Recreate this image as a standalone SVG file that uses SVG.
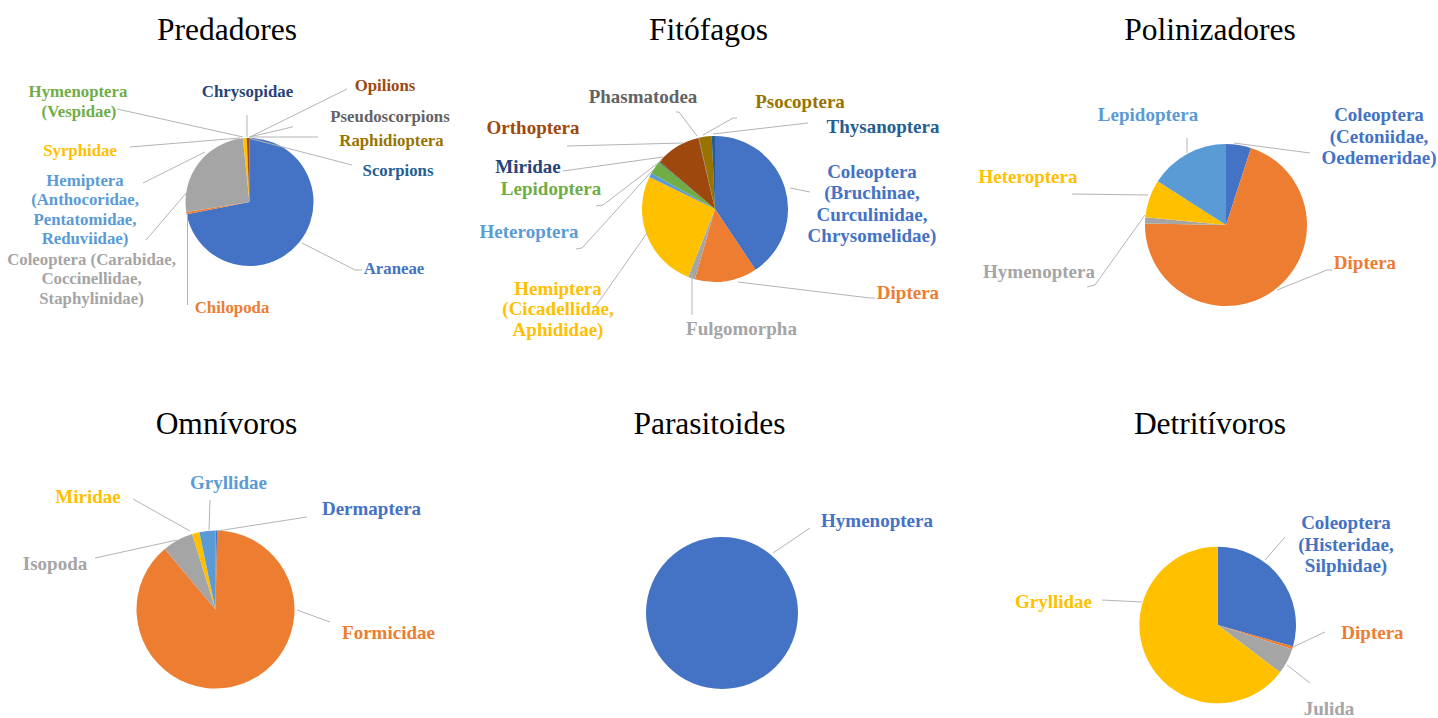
<svg xmlns="http://www.w3.org/2000/svg" width="1438" height="718" viewBox="0 0 1438 718">
<style>
.t{font-family:"Liberation Serif","Times New Roman",serif;font-size:31.5px;fill:#000;text-anchor:middle}
.l{font-family:"Liberation Serif","Times New Roman",serif;font-size:19px;font-weight:bold;text-anchor:middle}
#predadores .l{font-size:16.8px}
.ld{fill:none;stroke:#b4b4b4;stroke-width:1}
.c1{fill:#4472C4}.c2{fill:#ED7D31}.c3{fill:#A5A5A5}.c4{fill:#FFC000}.c5{fill:#5B9BD5}.c6{fill:#70AD47}
.c7{fill:#264478}.c8{fill:#9E480E}.c9{fill:#636363}.c10{fill:#997300}.c11{fill:#255E91}
</style>
<rect width="1438" height="718" fill="#fff"/>

<g id="predadores">
<text class="t" x="227" y="39.5">Predadores</text>
<path class="c1" d="M249.5,202 L249.5,138 A64,64 0 1,1 186.68,214.21 Z"/>
<path class="c2" d="M249.5,202 L186.68,214.21 A64,64 0 0,1 186.29,212.01 Z"/>
<path class="c3" d="M249.5,202 L186.29,212.01 A64,64 0 0,1 242.81,138.35 Z"/>
<path class="c4" d="M249.5,202 L242.81,138.35 A64,64 0 0,1 246.71,138.06 Z"/>
<path class="c8" d="M249.5,202 L246.71,138.06 A64,64 0 0,1 249.5,138 Z"/>
<text class="l c6" x="78" y="96.5">Hymenoptera</text>
<text class="l c6" x="79" y="117">(Vespidae)</text>
<text class="l c4" x="80" y="156">Syrphidae</text>
<text class="l c5" x="85"><tspan x="85" y="185.5">Hemiptera</tspan><tspan x="85" y="205">(Anthocoridae,</tspan><tspan x="85" y="224.5">Pentatomidae,</tspan><tspan x="85" y="244">Reduviidae)</tspan></text>
<text class="l c3" x="91.5"><tspan x="91.5" y="264.5">Coleoptera (Carabidae,</tspan><tspan x="91.5" y="284">Coccinellidae,</tspan><tspan x="91.5" y="303.5">Staphylinidae)</tspan></text>
<text class="l c2" x="232" y="312.5">Chilopoda</text>
<text class="l c7" x="247.5" y="97">Chrysopidae</text>
<text class="l c8" x="385" y="90.5">Opilions</text>
<text class="l c9" x="390" y="122">Pseudoscorpions</text>
<text class="l c10" x="391.5" y="145.5">Raphidioptera</text>
<text class="l c11" x="398" y="175.5">Scorpions</text>
<text class="l c1" x="394" y="273.5">Araneae</text>
</g>

<g id="fitofagos">
<text class="t" x="708.5" y="39.5">Fitófagos</text>
<path class="c1" d="M715,209 L715,136 A73,73 0 0,1 755.50,269.74 Z"/>
<path class="c2" d="M715,209 L755.50,269.74 A73,73 0 0,1 694.88,279.17 Z"/>
<path class="c3" d="M715,209 L694.88,279.17 A73,73 0 0,1 688.25,276.92 Z"/>
<path class="c4" d="M715,209 L688.25,276.92 A73,73 0 0,1 649.39,177.00 Z"/>
<path class="c5" d="M715,209 L649.39,177.00 A73,73 0 0,1 651.46,173.05 Z"/>
<path class="c6" d="M715,209 L651.46,173.05 A73,73 0 0,1 659.08,162.08 Z"/>
<path class="c7" d="M715,209 L659.08,162.08 A73,73 0 0,1 659.57,161.49 Z"/>
<path class="c8" d="M715,209 L659.57,161.49 A73,73 0 0,1 698.33,137.93 Z"/>
<path class="c9" d="M715,209 L698.33,137.93 A73,73 0 0,1 698.95,137.79 Z"/>
<path class="c10" d="M715,209 L698.95,137.79 A73,73 0 0,1 711.69,136.08 Z"/>
<path class="c11" d="M715,209 L711.69,136.08 A73,73 0 0,1 715,136 Z"/>
<text class="l c9" x="643" y="102.5">Phasmatodea</text>
<text class="l c8" x="533" y="133.5">Orthoptera</text>
<text class="l c7" x="528" y="172.5">Miridae</text>
<text class="l c6" x="551" y="194.5">Lepidoptera</text>
<text class="l c5" x="529" y="237.5">Heteroptera</text>
<text class="l c4" x="558"><tspan x="558" y="294.5">Hemiptera</tspan><tspan x="558" y="315">(Cicadellidae,</tspan><tspan x="558" y="335.5">Aphididae)</tspan></text>
<text class="l c3" x="741.5" y="334.5">Fulgomorpha</text>
<text class="l c10" x="800" y="107.5">Psocoptera</text>
<text class="l c11" x="883" y="132.5">Thysanoptera</text>
<text class="l c1" x="872"><tspan x="872" y="177.5">Coleoptera</tspan><tspan x="872" y="199">(Bruchinae,</tspan><tspan x="872" y="220.5">Curculinidae,</tspan><tspan x="872" y="242">Chrysomelidae)</tspan></text>
<text class="l c2" x="908" y="299">Diptera</text>
</g>

<g id="polinizadores">
<text class="t" x="1210" y="39.5">Polinizadores</text>
<path class="c1" d="M1226,225 L1226,144 A81,81 0 0,1 1251.03,147.96 Z"/>
<path class="c2" d="M1226,225 L1251.03,147.96 A81,81 0 1,1 1145.01,223.59 Z"/>
<path class="c3" d="M1226,225 L1145.01,223.59 A81,81 0 0,1 1145.37,217.24 Z"/>
<path class="c4" d="M1226,225 L1145.37,217.24 A81,81 0 0,1 1157.76,181.36 Z"/>
<path class="c5" d="M1226,225 L1157.76,181.36 A81,81 0 0,1 1226,144 Z"/>
<text class="l c5" x="1148" y="121">Lepidoptera</text>
<text class="l c4" x="1028" y="182.5">Heteroptera</text>
<text class="l c3" x="1039" y="277.5">Hymenoptera</text>
<text class="l c1" x="1379"><tspan x="1379" y="121">Coleoptera</tspan><tspan x="1379" y="142.5">(Cetoniidae,</tspan><tspan x="1379" y="164">Oedemeridae)</tspan></text>
<text class="l c2" x="1365" y="269">Diptera</text>
</g>

<g id="omnivoros">
<text class="t" x="226.5" y="434">Omnívoros</text>
<path class="c1" d="M215.5,609.5 L215.5,530.5 A79,79 0 0,1 217.15,530.52 Z"/>
<path class="c2" d="M215.5,609.5 L217.15,530.52 A79,79 0 1,1 164.72,548.99 Z"/>
<path class="c3" d="M215.5,609.5 L164.72,548.99 A79,79 0 0,1 192.14,534.03 Z"/>
<path class="c4" d="M215.5,609.5 L192.14,534.03 A79,79 0 0,1 199.35,532.17 Z"/>
<path class="c5" d="M215.5,609.5 L199.35,532.17 A79,79 0 0,1 215.5,530.5 Z"/>
<text class="l c4" x="88" y="502.5">Miridae</text>
<text class="l c5" x="228.5" y="489">Gryllidae</text>
<text class="l c1" x="371.5" y="515">Dermaptera</text>
<text class="l c3" x="55" y="570">Isopoda</text>
<text class="l c2" x="388.5" y="639">Formicidae</text>
</g>

<g id="parasitoides">
<text class="t" x="709.5" y="434">Parasitoides</text>
<circle class="c1" cx="722" cy="613" r="76"/>
<text class="l c1" x="877" y="527">Hymenoptera</text>
</g>

<g id="detritivoros">
<text class="t" x="1210" y="434">Detritívoros</text>
<path class="c1" d="M1217.7,625 L1217.7,546.7 A78.3,78.3 0 0,1 1292.97,646.58 Z"/>
<path class="c2" d="M1217.7,625 L1292.97,646.58 A78.3,78.3 0 0,1 1292.17,649.19 Z"/>
<path class="c3" d="M1217.7,625 L1292.17,649.19 A78.3,78.3 0 0,1 1280.07,672.34 Z"/>
<path class="c4" d="M1217.7,625 L1280.07,672.34 A78.3,78.3 0 1,1 1217.7,546.7 Z"/>
<text class="l c1" x="1346"><tspan x="1346" y="529">Coleoptera</tspan><tspan x="1346" y="550.5">(Histeridae,</tspan><tspan x="1346" y="572">Silphidae)</tspan></text>
<text class="l c2" x="1372.5" y="639">Diptera</text>
<text class="l c3" x="1329" y="714.5">Julida</text>
<text class="l c4" x="1053.5" y="608">Gryllidae</text>
</g>

<g id="connectors">
<polyline class="ld" points="117,109 243,137"/>
<polyline class="ld" points="130,147 240,138"/>
<polyline class="ld" points="143,183 205,152"/>
<polyline class="ld" points="146,240 188,191"/>
<polyline class="ld" points="187.5,214 187.5,305"/>
<polyline class="ld" points="247,115 247,137"/>
<polyline class="ld" points="347,89 250,137"/>
<polyline class="ld" points="293,126.7 284,129 249,137"/>
<polyline class="ld" points="318,137 250,137"/>
<polyline class="ld" points="352,165 250,138.5"/>
<polyline class="ld" points="362,270 355,270 302,243"/>

<polyline class="ld" points="676,112 679,112 697,136"/>
<polyline class="ld" points="567,146 683,143"/>
<polyline class="ld" points="563,171 663,157"/>
<polyline class="ld" points="596,206 603,205 662,160"/>
<polyline class="ld" points="576,249 582,248 653,170"/>
<polyline class="ld" points="593,310 647,233"/>
<polyline class="ld" points="692,273 692,315"/>
<polyline class="ld" points="737,118 733,118 703,135"/>
<polyline class="ld" points="808,123 713,134"/>
<polyline class="ld" points="790,188 810,192"/>
<polyline class="ld" points="875,298 870,298 738,282"/>

<polyline class="ld" points="1187,138 1187,153"/>
<polyline class="ld" points="1072,194 1148,195"/>
<polyline class="ld" points="1087,287 1095,285 1145,215"/>
<polyline class="ld" points="1310,153 1234,143"/>
<polyline class="ld" points="1332,270 1327,270 1277,290"/>

<polyline class="ld" points="133,499 190,531"/>
<polyline class="ld" points="210,500 209,530"/>
<polyline class="ld" points="307,517 217,531"/>
<polyline class="ld" points="95,558 177,540"/>
<polyline class="ld" points="330,622 297,610"/>

<polyline class="ld" points="810,528 773,553"/>

<polyline class="ld" points="1285,537 1265,560"/>
<polyline class="ld" points="1325,632 1293,647"/>
<polyline class="ld" points="1310,683 1287,665"/>
<polyline class="ld" points="1102,600 1142,602"/>
</g>
</svg>
